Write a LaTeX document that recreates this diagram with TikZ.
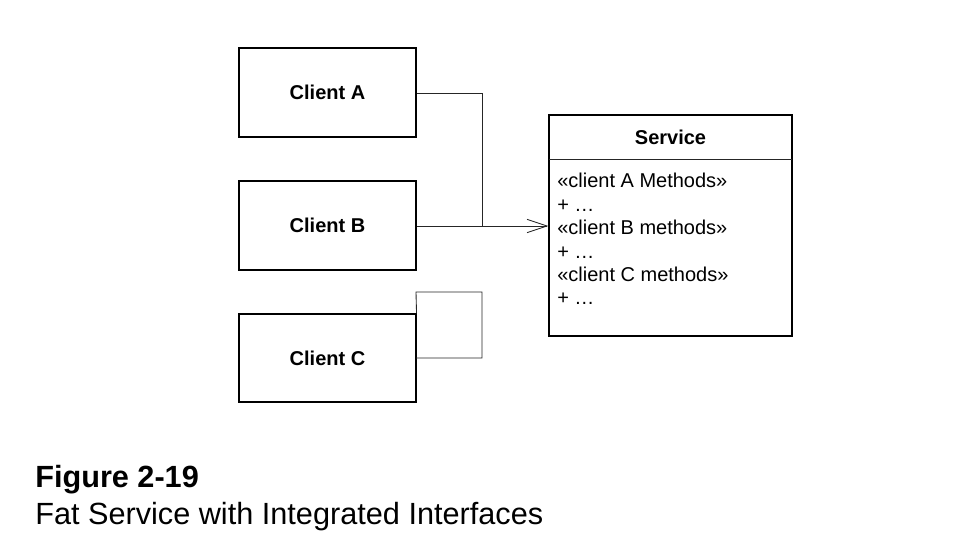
\documentclass[tikz,border=0pt]{standalone}
\usepackage{fontspec}
\setmainfont{Liberation Sans}
\usetikzlibrary{arrows.meta}
\begin{document}
\begin{tikzpicture}[x=0.75pt,y=-0.75pt,
  box/.style={draw=black,line width=0.8pt,inner sep=0pt},
  conn/.style={draw=black!85,line width=0.65pt},
  lbl/.style={font=\fontsize{15pt}{18pt}\selectfont\bfseries,inner sep=0pt},
  item/.style={font=\fontsize{15pt}{18pt}\selectfont,anchor=base west,inner sep=0pt}]
\useasboundingbox (0,0) rectangle (976,552);
% clients
\node[box,minimum width=177*0.75pt,minimum height=89*0.75pt] (A) at (327.5,92.5) {};
\node[lbl] at (A.center) {Client A};
\node[box,minimum width=177*0.75pt,minimum height=89*0.75pt] (B) at (327.5,225.5) {};
\node[lbl] at (B.center) {Client B};
\node[box,minimum width=177*0.75pt,minimum height=88*0.75pt] (C) at (327.5,358) {};
\node[lbl] at (C.center) {Client C};
% service
\node[box,minimum width=243*0.75pt,minimum height=221*0.75pt] (S) at (670.5,225.5) {};
\coordinate (Sdl) at (549,159);
\coordinate (Sdr) at (792,159);
\draw[conn] (Sdl) -- (Sdr);
\node[lbl] (St) at (670.5,137) {Service};
\node[item] (i1) at (557,188) {«client A Methods»};
\node[item] (i2) at (557,211.4) {+ …};
\node[item] (i3) at (557,234.8) {«client B methods»};
\node[item] (i4) at (557,258.2) {+ …};
\node[item] (i5) at (557,281.6) {«client C methods»};
\node[item] (i6) at (557,305) {+ …};
% connectors
\coordinate (Aout) at (A.east |- 0,93);
\coordinate (J) at (482,226);
\coordinate (Sin) at (S.west |- 0,226);
\draw[conn] (Aout) -- (482,93) -- (J);
\draw[conn,-{Straight Barb[length=15pt,width=10pt,line width=0.65pt]}] (B.east |- J) -- (Sin);
\coordinate (Cl1) at (416,358);
\coordinate (Cl2) at (482,292);
\draw[conn] (Cl1) -- (Cl1 -| Cl2) -- (Cl2) -- (Cl1 |- Cl2) -- (C.north east);
% caption
\node[font=\fontsize{23pt}{27pt}\selectfont\bfseries,anchor=base west,inner sep=0pt] (cap1) at (35,488) {Figure 2-19};
\node[font=\fontsize{23pt}{27pt}\selectfont,anchor=base west,inner sep=0pt] (cap2) at (35,525) {Fat Service with Integrated Interfaces};
\end{tikzpicture}
\end{document}
